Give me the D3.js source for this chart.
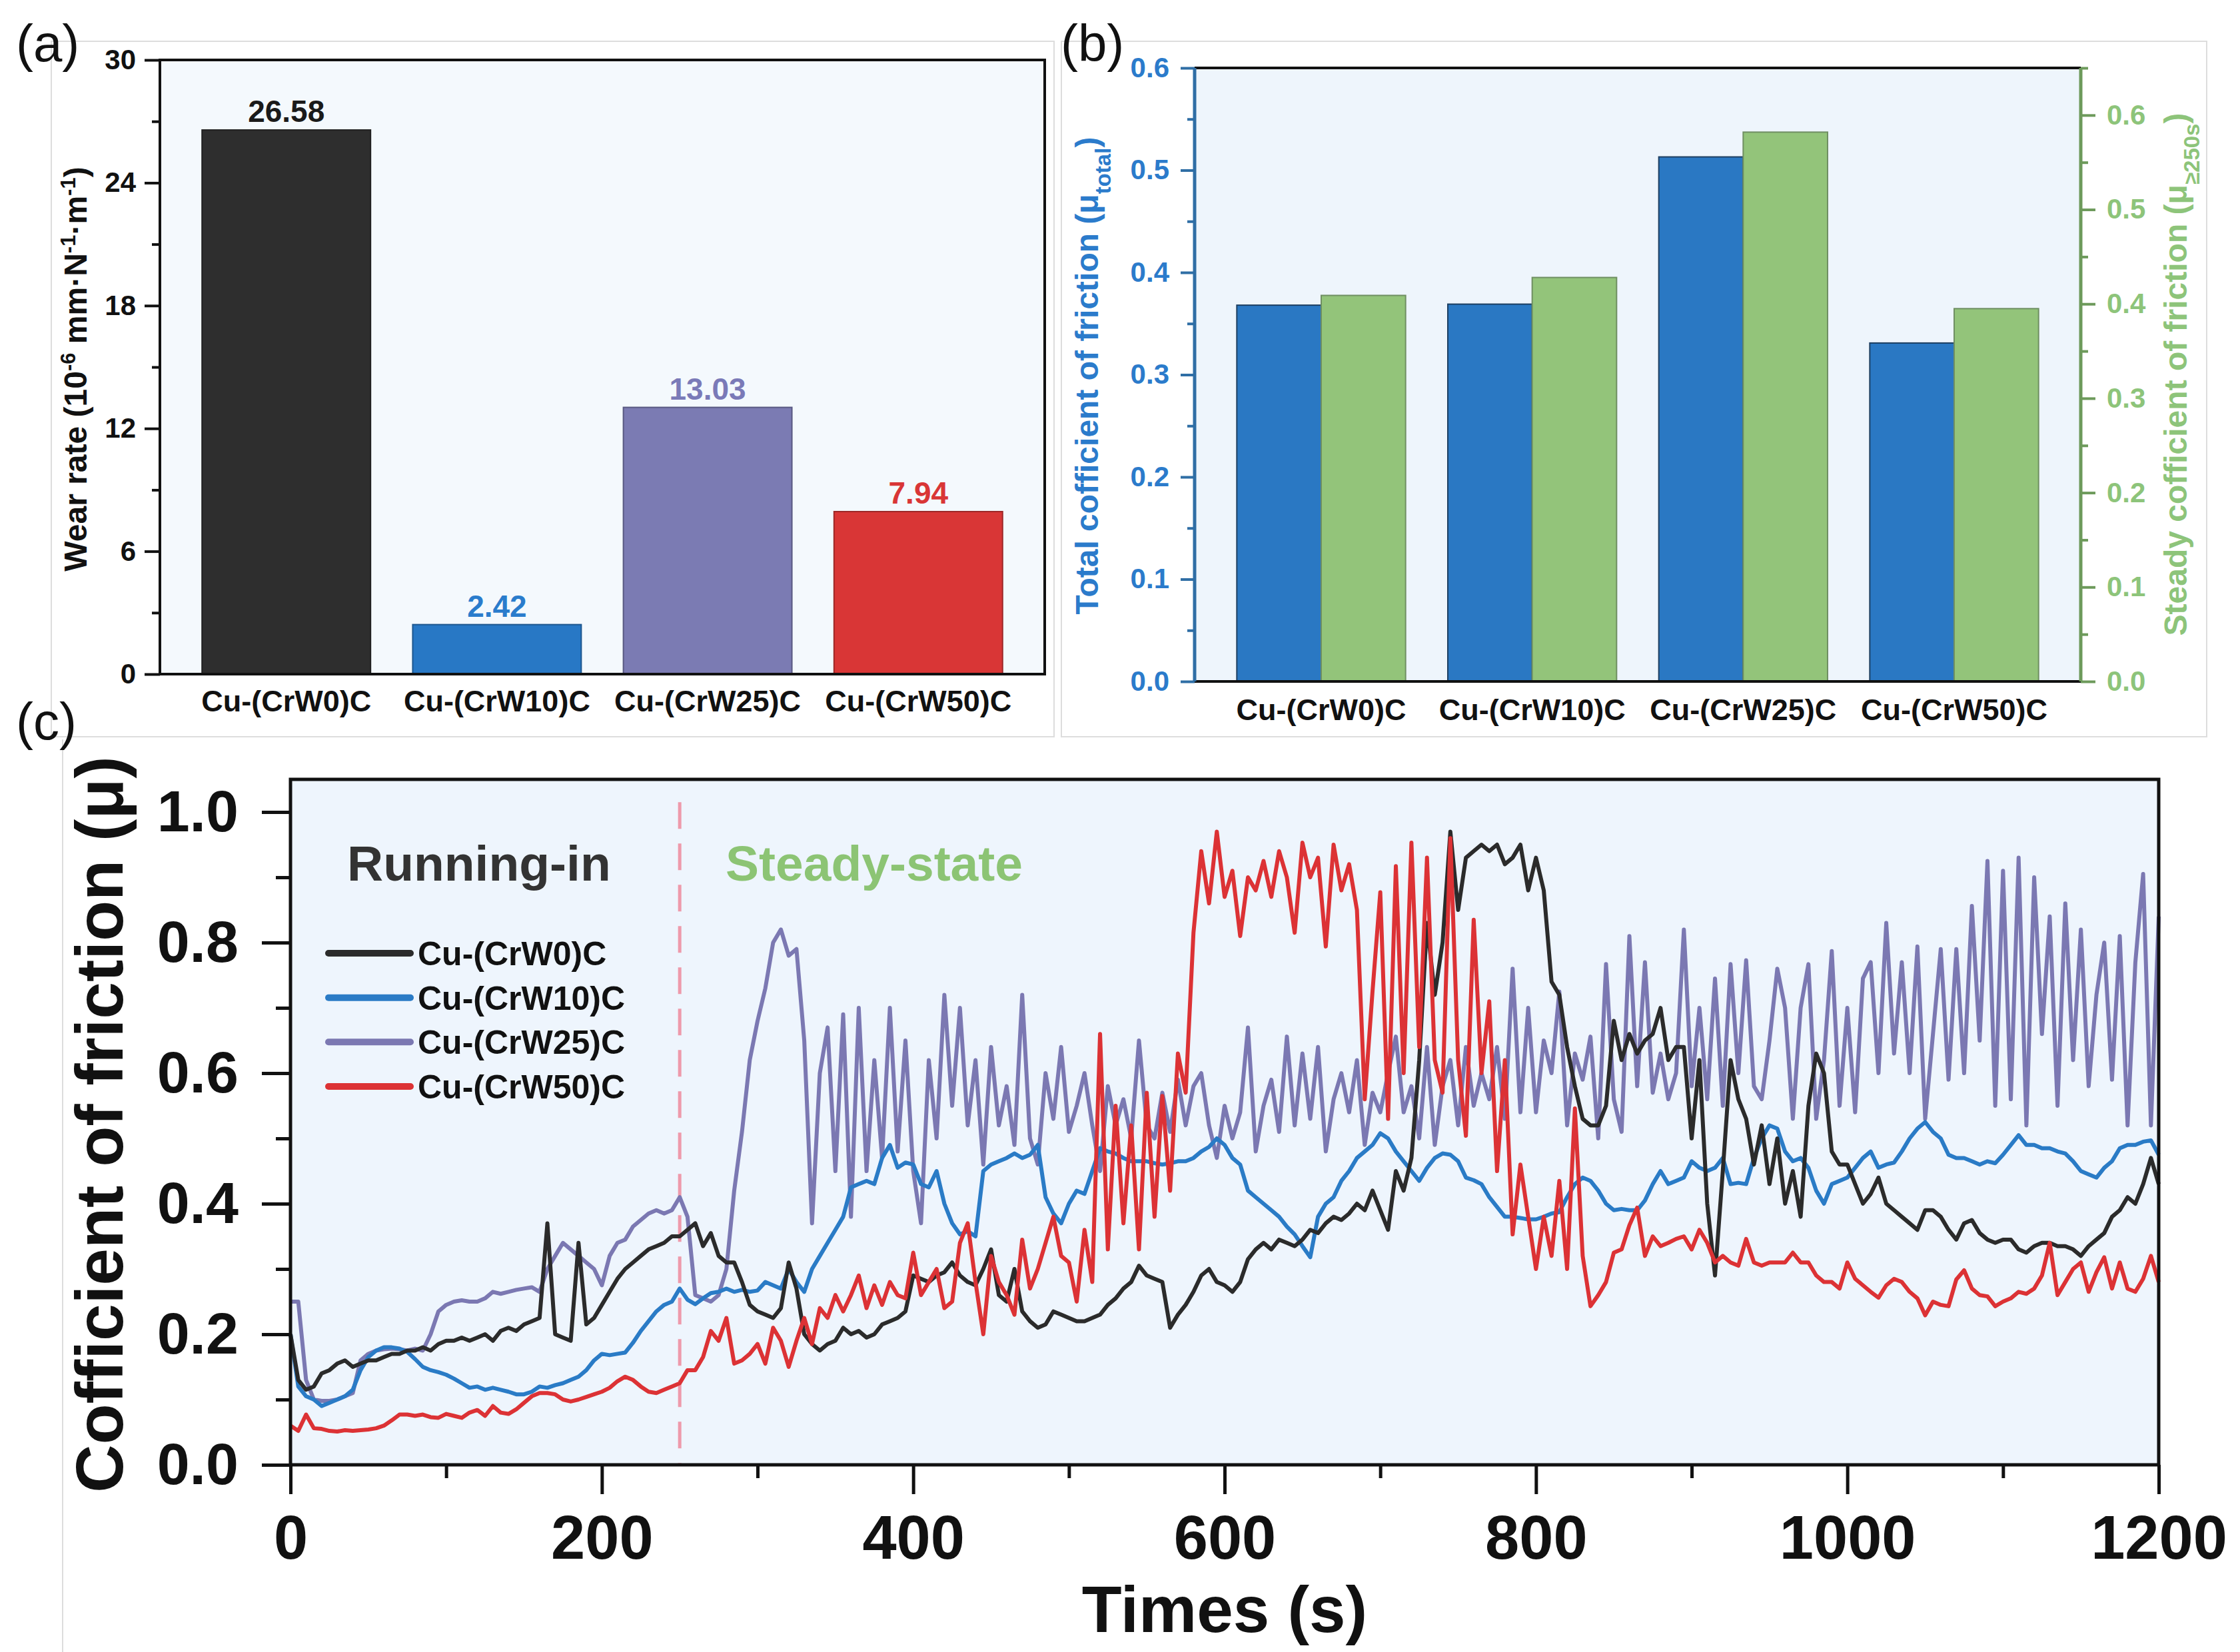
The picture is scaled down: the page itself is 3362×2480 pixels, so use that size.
<!DOCTYPE html>
<html><head><meta charset="utf-8">
<script src="https://cdn.jsdelivr.net/npm/d3@7"></script>
<style>
body{margin:0;background:#fff}
svg{display:block}
text{font-family:"Liberation Sans",Arial,Helvetica,sans-serif}
</style>
</head><body>
<svg id="chart" width="3362" height="2480"></svg>
<script>
// ---------------- DATA ----------------
const samples = ["Cu-(CrW0)C","Cu-(CrW10)C","Cu-(CrW25)C","Cu-(CrW50)C"];
const wearRate = [26.58, 2.42, 13.03, 7.94];
const wearLabels = ["26.58","2.42","13.03","7.94"];
const wearTicks = [0,6,12,18,24,30];
const wearMinor = [3,9,15,21,27];

const muTotal  = [0.368, 0.369, 0.513, 0.331];
const muSteady = [0.409, 0.428, 0.582, 0.395];
const muLeftTicks  = [0,0.1,0.2,0.3,0.4,0.5,0.6];
const muLeftMinor  = [0.05,0.15,0.25,0.35,0.45,0.55];
const muRightTicks = [0,0.1,0.2,0.3,0.4,0.5,0.6];
const muRightMinor = [0.05,0.15,0.25,0.35,0.45,0.55,0.65];

const timeTicks  = [0,200,400,600,800,1000,1200];
const timeMinor  = [100,300,500,700,900,1100];
const cofTicks   = [0,0.2,0.4,0.6,0.8,1.0];
const cofMinor   = [0.1,0.3,0.5,0.7,0.9];
const sampleStep = 5; // seconds between readings, t = 0..1200

const cofCrW0 = [
0.20,0.13,0.115,0.12,0.14,0.145,0.155,0.16,0.15,0.155,
0.16,0.16,0.165,0.17,0.17,0.175,0.175,0.18,0.175,0.185,
0.19,0.19,0.195,0.19,0.195,0.20,0.19,0.205,0.21,0.205,
0.215,0.22,0.225,0.37,0.20,0.195,0.19,0.34,0.215,0.225,
0.245,0.265,0.285,0.30,0.31,0.32,0.33,0.335,0.34,0.35,
0.35,0.36,0.37,0.335,0.355,0.32,0.31,0.31,0.28,0.245,
0.235,0.23,0.225,0.24,0.31,0.27,0.20,0.185,0.175,0.185,
0.19,0.21,0.20,0.205,0.195,0.20,0.215,0.22,0.225,0.235,
0.29,0.285,0.28,0.29,0.295,0.31,0.29,0.28,0.275,0.30,
0.33,0.26,0.25,0.30,0.235,0.22,0.21,0.215,0.235,0.23,
0.225,0.22,0.22,0.225,0.23,0.245,0.255,0.27,0.28,0.305,
0.29,0.285,0.28,0.21,0.23,0.245,0.265,0.29,0.30,0.28,
0.275,0.265,0.28,0.315,0.33,0.34,0.33,0.345,0.34,0.335,
0.345,0.36,0.355,0.37,0.38,0.375,0.385,0.40,0.39,0.42,
0.39,0.36,0.45,0.42,0.47,0.62,0.83,0.72,0.80,0.97,
0.85,0.93,0.94,0.95,0.94,0.95,0.92,0.93,0.95,0.88,
0.93,0.88,0.74,0.72,0.64,0.58,0.53,0.52,0.52,0.55,
0.68,0.62,0.66,0.63,0.65,0.66,0.70,0.62,0.64,0.64,
0.50,0.62,0.40,0.29,0.45,0.62,0.56,0.53,0.46,0.52,
0.43,0.50,0.40,0.45,0.38,0.55,0.63,0.60,0.48,0.46,
0.46,0.43,0.40,0.415,0.44,0.40,0.39,0.38,0.37,0.36,
0.39,0.39,0.38,0.36,0.345,0.37,0.375,0.355,0.345,0.34,
0.345,0.345,0.33,0.325,0.335,0.34,0.34,0.335,0.335,0.33,
0.32,0.335,0.345,0.355,0.38,0.39,0.41,0.40,0.43,0.47,
0.43];

const cofCrW10 = [
0.20,0.12,0.105,0.10,0.09,0.095,0.10,0.105,0.115,0.145,
0.165,0.175,0.18,0.18,0.178,0.173,0.162,0.15,0.145,0.142,
0.138,0.132,0.125,0.118,0.12,0.115,0.118,0.115,0.112,0.108,
0.108,0.112,0.12,0.118,0.122,0.125,0.13,0.135,0.145,0.16,
0.17,0.168,0.17,0.172,0.187,0.205,0.22,0.235,0.245,0.25,
0.27,0.253,0.246,0.255,0.263,0.265,0.27,0.265,0.268,0.265,
0.267,0.28,0.275,0.27,0.30,0.28,0.265,0.30,0.32,0.34,
0.36,0.38,0.425,0.43,0.435,0.43,0.47,0.49,0.455,0.463,
0.46,0.43,0.425,0.45,0.40,0.37,0.353,0.358,0.35,0.45,
0.46,0.465,0.47,0.477,0.47,0.475,0.49,0.41,0.385,0.37,
0.40,0.42,0.415,0.45,0.485,0.48,0.477,0.47,0.465,0.465,
0.465,0.462,0.46,0.462,0.465,0.465,0.47,0.48,0.487,0.50,
0.49,0.47,0.46,0.42,0.41,0.40,0.39,0.38,0.365,0.353,
0.335,0.318,0.38,0.40,0.41,0.435,0.45,0.47,0.48,0.49,
0.508,0.50,0.48,0.465,0.45,0.435,0.455,0.47,0.477,0.475,
0.465,0.44,0.436,0.43,0.41,0.395,0.38,0.38,0.378,0.376,
0.376,0.38,0.385,0.387,0.41,0.43,0.44,0.435,0.42,0.40,
0.39,0.392,0.39,0.39,0.405,0.43,0.45,0.43,0.435,0.44,
0.465,0.455,0.45,0.455,0.47,0.43,0.432,0.43,0.47,0.50,
0.52,0.515,0.48,0.465,0.47,0.455,0.42,0.40,0.43,0.435,
0.44,0.455,0.47,0.48,0.455,0.46,0.463,0.48,0.50,0.515,
0.525,0.51,0.50,0.475,0.47,0.47,0.465,0.46,0.465,0.462,
0.475,0.49,0.505,0.49,0.49,0.485,0.485,0.48,0.477,0.465,
0.45,0.445,0.44,0.455,0.465,0.485,0.49,0.49,0.495,0.497,
0.475];

const cofCrW25 = [
0.25,0.25,0.13,0.10,0.098,0.098,0.10,0.105,0.11,0.16,
0.17,0.175,0.177,0.178,0.177,0.175,0.178,0.175,0.20,0.235,
0.245,0.25,0.252,0.25,0.25,0.255,0.265,0.262,0.265,0.268,
0.27,0.272,0.265,0.30,0.32,0.34,0.33,0.32,0.31,0.30,
0.275,0.32,0.34,0.345,0.365,0.375,0.385,0.39,0.385,0.39,
0.41,0.38,0.26,0.255,0.25,0.26,0.30,0.42,0.51,0.62,
0.68,0.73,0.80,0.82,0.78,0.79,0.65,0.37,0.60,0.67,
0.45,0.69,0.38,0.70,0.45,0.62,0.47,0.70,0.48,0.65,
0.45,0.37,0.62,0.50,0.72,0.55,0.70,0.52,0.62,0.46,
0.64,0.52,0.58,0.49,0.72,0.50,0.46,0.60,0.53,0.64,
0.51,0.55,0.60,0.52,0.45,0.58,0.52,0.56,0.50,0.65,
0.52,0.50,0.57,0.51,0.59,0.52,0.58,0.60,0.52,0.47,
0.55,0.50,0.54,0.67,0.48,0.55,0.59,0.51,0.656,0.52,
0.63,0.53,0.64,0.48,0.56,0.60,0.54,0.62,0.49,0.57,
0.54,0.60,0.656,0.54,0.58,0.50,0.64,0.49,0.58,0.62,
0.52,0.64,0.55,0.60,0.56,0.64,0.53,0.76,0.54,0.70,
0.54,0.65,0.60,0.725,0.52,0.63,0.59,0.656,0.50,0.767,
0.56,0.51,0.81,0.58,0.77,0.57,0.63,0.56,0.60,0.82,
0.58,0.70,0.56,0.745,0.55,0.767,0.60,0.773,0.58,0.56,
0.65,0.76,0.70,0.53,0.70,0.767,0.53,0.62,0.787,0.55,
0.70,0.54,0.745,0.77,0.60,0.83,0.63,0.77,0.60,0.794,
0.53,0.66,0.79,0.59,0.79,0.60,0.856,0.65,0.925,0.55,
0.91,0.56,0.93,0.52,0.90,0.66,0.84,0.55,0.86,0.62,
0.82,0.58,0.72,0.80,0.59,0.81,0.52,0.77,0.905,0.52,
0.84];

const cofCrW50 = [
0.06,0.052,0.077,0.056,0.055,0.052,0.051,0.053,0.052,0.053,
0.054,0.056,0.06,0.068,0.077,0.077,0.075,0.077,0.073,0.072,
0.078,0.075,0.072,0.08,0.084,0.075,0.09,0.08,0.078,0.085,
0.095,0.105,0.11,0.11,0.108,0.10,0.097,0.10,0.104,0.108,
0.112,0.118,0.128,0.135,0.13,0.12,0.112,0.11,0.115,0.12,
0.125,0.145,0.145,0.165,0.205,0.19,0.225,0.155,0.16,0.17,
0.185,0.155,0.21,0.19,0.15,0.19,0.225,0.185,0.24,0.225,
0.26,0.235,0.26,0.29,0.24,0.275,0.245,0.28,0.26,0.255,
0.325,0.26,0.28,0.30,0.24,0.25,0.34,0.37,0.28,0.20,
0.32,0.28,0.26,0.23,0.345,0.27,0.30,0.34,0.38,0.32,
0.31,0.25,0.36,0.28,0.66,0.33,0.55,0.37,0.52,0.33,
0.57,0.38,0.565,0.42,0.63,0.57,0.815,0.94,0.86,0.97,
0.87,0.91,0.81,0.90,0.88,0.925,0.87,0.94,0.90,0.815,
0.953,0.90,0.93,0.794,0.95,0.88,0.92,0.85,0.56,0.725,
0.877,0.53,0.917,0.60,0.953,0.64,0.93,0.62,0.57,0.96,
0.62,0.504,0.835,0.60,0.71,0.45,0.62,0.353,0.46,0.38,
0.30,0.38,0.32,0.435,0.30,0.546,0.32,0.243,0.26,0.28,
0.325,0.33,0.367,0.394,0.32,0.35,0.335,0.34,0.346,0.35,
0.33,0.36,0.34,0.31,0.32,0.31,0.305,0.346,0.31,0.305,
0.31,0.31,0.31,0.325,0.31,0.31,0.29,0.28,0.28,0.27,
0.31,0.285,0.275,0.265,0.256,0.275,0.285,0.28,0.265,0.255,
0.229,0.25,0.245,0.243,0.284,0.298,0.27,0.26,0.258,0.243,
0.25,0.255,0.265,0.262,0.27,0.29,0.34,0.26,0.28,0.30,
0.31,0.265,0.295,0.318,0.27,0.31,0.27,0.265,0.285,0.32,
0.28];

// ---------------- STYLE ----------------
const sampleColors = ["#2b2b2b","#2a7bc6","#7b78b2","#dc3235"];
const barColorsA   = ["#2e2e2e","#2878c5","#7b7bb3","#d93636"];
const labelColorsA = ["#1a1a1a","#2a7ccc","#7a7ab8","#d93636"];
const blueBar = "#2a78c3", greenBar = "#93c47a";

const svg = d3.select("#chart");
const FONT = '"Liberation Sans",Arial,sans-serif';

// faint panel frames
svg.append("rect").attr("x",77).attr("y",62).attr("width",1505).attr("height",1044)
  .attr("fill","none").attr("stroke","#dddddd").attr("stroke-width",2);
svg.append("rect").attr("x",1593).attr("y",62).attr("width",1719).attr("height",1044)
  .attr("fill","none").attr("stroke","#dddddd").attr("stroke-width",2);
svg.append("line").attr("x1",94).attr("x2",94).attr("y1",1110).attr("y2",2480)
  .attr("stroke","#dddddd").attr("stroke-width",2);

function styleAxis(g, color, fontSize, weight){
  g.select(".domain").remove();
  g.selectAll(".tick line").attr("stroke",color).attr("stroke-width",4);
  g.selectAll(".tick text").attr("fill",color).attr("font-size",fontSize)
    .attr("font-weight",weight).attr("font-family",FONT);
}

// ================= PANEL (a) =================
const xA = d3.scaleBand().domain(samples).range([240,1568]).paddingInner(0.2).paddingOuter(0.2);
const yA = d3.scaleLinear().domain([0,30]).range([1012,90]);

svg.append("rect").attr("x",240).attr("y",90).attr("width",1328).attr("height",922).attr("fill","#f4f9fd");

svg.append("g").selectAll("rect").data(wearRate).join("rect")
  .attr("x",(d,i)=>xA(samples[i])).attr("width",xA.bandwidth())
  .attr("y",d=>yA(d)).attr("height",d=>yA(0)-yA(d))
  .attr("fill",(d,i)=>barColorsA[i])
  .attr("stroke",(d,i)=>d3.color(barColorsA[i]).darker(0.9)).attr("stroke-width",2);

svg.append("g").selectAll("text").data(wearRate).join("text")
  .attr("x",(d,i)=>xA(samples[i])+xA.bandwidth()/2).attr("y",d=>yA(d)-12)
  .attr("text-anchor","middle").attr("font-size",46).attr("font-weight","bold")
  .attr("fill",(d,i)=>labelColorsA[i]).text((d,i)=>wearLabels[i]);

const gAy = svg.append("g").attr("transform","translate(240,0)")
  .call(d3.axisLeft(yA).tickValues(wearTicks).tickSize(23).tickPadding(13).tickFormat(d3.format("d")));
styleAxis(gAy,"#111",42,"bold");
const gAym = svg.append("g").attr("transform","translate(240,0)")
  .call(d3.axisLeft(yA).tickValues(wearMinor).tickSize(12).tickFormat(""));
styleAxis(gAym,"#111",42,"bold");

svg.append("rect").attr("x",240).attr("y",90).attr("width",1328).attr("height",922)
  .attr("fill","none").attr("stroke","#111").attr("stroke-width",4);

svg.append("g").selectAll("text").data(samples).join("text")
  .attr("x",d=>xA(d)+xA.bandwidth()/2).attr("y",1068)
  .attr("text-anchor","middle").attr("font-size",45).attr("font-weight","bold").attr("fill","#111")
  .text(d=>d);

const tA = svg.append("text").attr("transform","translate(130,554) rotate(-90)")
  .attr("text-anchor","middle").attr("font-size",48).attr("font-weight","bold").attr("fill","#111");
tA.append("tspan").text("Wear rate (10");
tA.append("tspan").attr("baseline-shift","super").attr("font-size",31).text("-6");
tA.append("tspan").text(" mm·N");
tA.append("tspan").attr("baseline-shift","super").attr("font-size",31).text("-1");
tA.append("tspan").text("·m");
tA.append("tspan").attr("baseline-shift","super").attr("font-size",31).text("-1");
tA.append("tspan").text(")");

svg.append("text").attr("x",24).attr("y",92).attr("font-size",78).attr("fill","#111").text("(a)");

// ================= PANEL (b) =================
const xB = d3.scaleBand().domain(samples).range([1793,3123]).paddingInner(0.2).paddingOuter(0.2);
const yL = d3.scaleLinear().domain([0,0.6]).range([1023,102]);
const yR = d3.scaleLinear().domain([0,0.65]).range([1023,102]);

svg.append("rect").attr("x",1793).attr("y",102).attr("width",1330).attr("height",921).attr("fill","#eef5fc");

svg.append("g").selectAll("rect").data(muTotal).join("rect")
  .attr("x",(d,i)=>xB(samples[i])).attr("width",xB.bandwidth()/2)
  .attr("y",d=>yL(d)).attr("height",d=>yL(0)-yL(d))
  .attr("fill",blueBar).attr("stroke","#1d3f62").attr("stroke-width",2);
svg.append("g").selectAll("rect").data(muSteady).join("rect")
  .attr("x",(d,i)=>xB(samples[i])+xB.bandwidth()/2).attr("width",xB.bandwidth()/2)
  .attr("y",d=>yR(d)).attr("height",d=>yR(0)-yR(d))
  .attr("fill",greenBar).attr("stroke","#6f8f62").attr("stroke-width",2);

svg.append("line").attr("x1",1793).attr("x2",3123).attr("y1",102).attr("y2",102).attr("stroke","#111").attr("stroke-width",4);
svg.append("line").attr("x1",1793).attr("x2",3123).attr("y1",1023).attr("y2",1023).attr("stroke","#111").attr("stroke-width",4);

const gBl = svg.append("g").attr("transform","translate(1793,0)")
  .call(d3.axisLeft(yL).tickValues(muLeftTicks).tickSize(21).tickPadding(17).tickFormat(d3.format(".1f")));
styleAxis(gBl,"#2b7bcb",42,"bold");
gBl.selectAll(".tick line").attr("stroke","#2f6ea5");
const gBlm = svg.append("g").attr("transform","translate(1793,0)")
  .call(d3.axisLeft(yL).tickValues(muLeftMinor).tickSize(11).tickFormat(""));
styleAxis(gBlm,"#2f6ea5",42,"bold");
svg.append("line").attr("x1",1793).attr("x2",1793).attr("y1",102).attr("y2",1023).attr("stroke","#2f6ea5").attr("stroke-width",5);

const gBr = svg.append("g").attr("transform","translate(3123,0)")
  .call(d3.axisRight(yR).tickValues(muRightTicks).tickSize(22).tickPadding(17).tickFormat(d3.format(".1f")));
styleAxis(gBr,"#8dc47a",42,"bold");
gBr.selectAll(".tick line").attr("stroke","#6d9a5b");
const gBrm = svg.append("g").attr("transform","translate(3123,0)")
  .call(d3.axisRight(yR).tickValues(muRightMinor).tickSize(11).tickFormat(""));
styleAxis(gBrm,"#6d9a5b",42,"bold");
svg.append("line").attr("x1",3123).attr("x2",3123).attr("y1",102).attr("y2",1023).attr("stroke","#6d9a5b").attr("stroke-width",5);

svg.append("g").selectAll("text").data(samples).join("text")
  .attr("x",d=>xB(d)+xB.bandwidth()/2).attr("y",1081)
  .attr("text-anchor","middle").attr("font-size",45).attr("font-weight","bold").attr("fill","#111")
  .text(d=>d);

const tBl = svg.append("text").attr("transform","translate(1648,564) rotate(-90)")
  .attr("text-anchor","middle").attr("font-size",48).attr("font-weight","bold").attr("fill","#2b7bcb");
tBl.append("tspan").text("Total cofficient of friction (μ");
tBl.append("tspan").attr("baseline-shift","sub").attr("font-size",33).text("total");
tBl.append("tspan").text(")");

const tBr = svg.append("text").attr("transform","translate(3282,562) rotate(-90)")
  .attr("text-anchor","middle").attr("font-size",48).attr("font-weight","bold").attr("fill","#8dc47a");
tBr.append("tspan").text("Steady cofficient of friction (μ");
tBr.append("tspan").attr("baseline-shift","sub").attr("font-size",33).text("≥250s");
tBr.append("tspan").text(")");

svg.append("text").attr("x",1592).attr("y",92).attr("font-size",78).attr("fill","#111").text("(b)");

// ================= PANEL (c) =================
const times = d3.range(0, 1200 + sampleStep, sampleStep);
const xC = d3.scaleLinear().domain([0,1200]).range([436,3240]);
const yC = d3.scaleLinear().domain([0,1.05]).range([2199,1170]);

svg.append("rect").attr("x",436).attr("y",1170).attr("width",2804).attr("height",1029).attr("fill","#eef5fd");

svg.append("line").attr("x1",xC(250)).attr("x2",xC(250)).attr("y1",yC(1.015)).attr("y2",yC(0))
  .attr("stroke","#ee9aab").attr("stroke-width",5).attr("stroke-dasharray","40,22");

const series = [
  {name:samples[2], vals:cofCrW25, color:sampleColors[2]},
  {name:samples[1], vals:cofCrW10, color:sampleColors[1]},
  {name:samples[0], vals:cofCrW0,  color:sampleColors[0]},
  {name:samples[3], vals:cofCrW50, color:sampleColors[3]}
];
const line = d3.line().x((d,i)=>xC(times[i])).y(d=>yC(d));
svg.append("g").selectAll("path").data(series).join("path")
  .attr("d",d=>line(d.vals)).attr("fill","none")
  .attr("stroke",d=>d.color).attr("stroke-width",6).attr("stroke-linejoin","round");

svg.append("rect").attr("x",436).attr("y",1170).attr("width",2804).attr("height",1029)
  .attr("fill","none").attr("stroke","#111").attr("stroke-width",5);

const gCx = svg.append("g").attr("transform","translate(0,2199)")
  .call(d3.axisBottom(xC).tickValues(timeTicks).tickSize(44).tickPadding(32).tickFormat(d3.format("d")));
styleAxis(gCx,"#111",92,"bold");
gCx.selectAll(".tick line").attr("stroke-width",5);
const gCxm = svg.append("g").attr("transform","translate(0,2199)")
  .call(d3.axisBottom(xC).tickValues(timeMinor).tickSize(20).tickFormat(""));
styleAxis(gCxm,"#111",92,"bold");
gCxm.selectAll(".tick line").attr("stroke-width",5);

const gCy = svg.append("g").attr("transform","translate(436,0)")
  .call(d3.axisLeft(yC).tickValues(cofTicks).tickSize(43).tickPadding(35).tickFormat(d3.format(".1f")));
styleAxis(gCy,"#111",88,"bold");
gCy.selectAll(".tick line").attr("stroke-width",5);
const gCym = svg.append("g").attr("transform","translate(436,0)")
  .call(d3.axisLeft(yC).tickValues(cofMinor).tickSize(22).tickFormat(""));
styleAxis(gCym,"#111",88,"bold");
gCym.selectAll(".tick line").attr("stroke-width",5);

svg.append("text").attr("x",1838).attr("y",2450).attr("text-anchor","middle")
  .attr("font-size",98).attr("font-weight","bold").attr("fill","#111").text("Times (s)");
svg.append("text").attr("transform","translate(184,1688) rotate(-90)").attr("text-anchor","middle")
  .attr("font-size",100).attr("font-weight","bold").attr("fill","#111").text("Cofficient of friction (μ)");

svg.append("text").attr("x",521).attr("y",1322).attr("font-size",75).attr("font-weight","bold")
  .attr("fill","#333").text("Running-in");
svg.append("text").attr("x",1089).attr("y",1322).attr("font-size",75).attr("font-weight","bold")
  .attr("fill","#8cc474").text("Steady-state");

const legendRows = [0,1,2,3];
const legY = d3.scalePoint().domain(legendRows).range([1431,1631]);
const leg = svg.append("g");
leg.selectAll("line").data(legendRows).join("line")
  .attr("x1",493).attr("x2",616).attr("y1",d=>legY(d)).attr("y2",d=>legY(d))
  .attr("stroke",d=>sampleColors[d]).attr("stroke-width",10).attr("stroke-linecap","round");
leg.selectAll("text").data(legendRows).join("text")
  .attr("x",627).attr("y",d=>legY(d)+18).attr("font-size",50).attr("font-weight","bold")
  .attr("fill","#111").text(d=>samples[d]);

svg.append("text").attr("x",24).attr("y",1110).attr("font-size",78).attr("fill","#111").text("(c)");
</script>
</body></html>
